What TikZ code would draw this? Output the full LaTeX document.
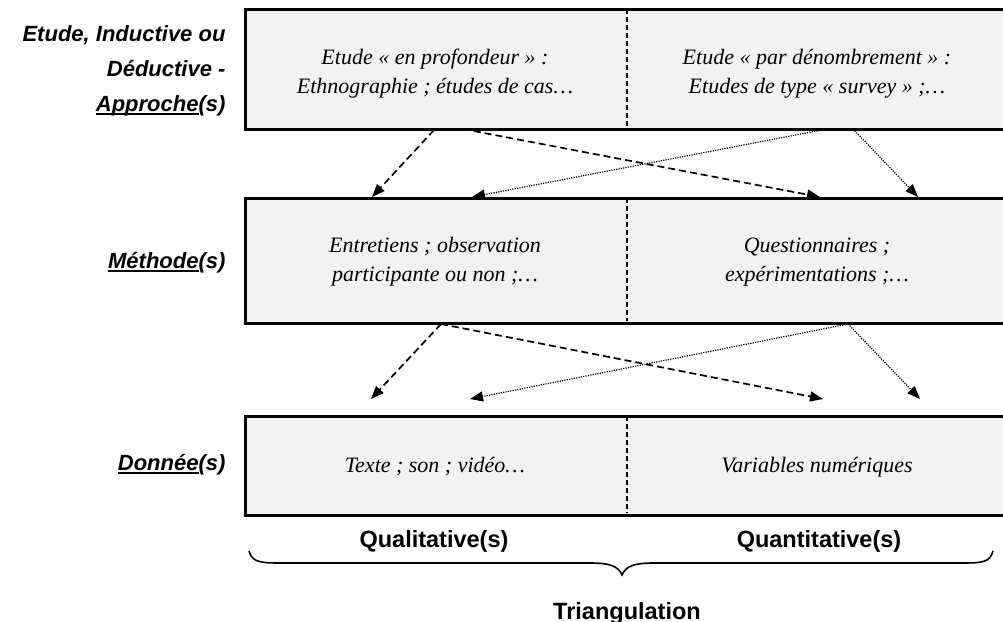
\documentclass[tikz,border=0pt]{standalone}
\usepackage{fontspec}
\setmainfont{Liberation Serif}
\newfontfamily\lsans{Liberation Sans}
\usetikzlibrary{arrows.meta}
\definecolor{boxgray}{HTML}{F2F2F2}
\newcommand\myul[1]{\setbox0\hbox{#1}\rlap{\rule[-3.5pt]{\wd0}{2.2pt}}\box0}
\begin{document}
\begin{tikzpicture}[x=1pt,y=-1pt,
  box/.style={draw=black,line width=2.5pt,fill=boxgray,rectangle,anchor=north west,inner sep=0pt},
  divider/.style={line width=1.5pt,dash pattern=on 5pt off 3pt},
  cell/.style={font=\fontsize{22}{29}\selectfont\itshape,align=center},
  side/.style={font=\lsans\fontsize{22}{35}\selectfont\bfseries\itshape,align=right,anchor=east},
  head/.style={font=\lsans\fontsize{23.5}{27}\selectfont\bfseries},
  qual/.style={-{Triangle[length=13pt,width=10pt]},line width=1.7pt,dash pattern=on 7pt off 4pt},
  quant/.style={-{Triangle[length=13pt,width=10pt]},line width=1.2pt,dash pattern=on 1.2pt off 1.2pt},
]
\useasboundingbox (0,0) rectangle (1003,621);
% boxes
\node[box,minimum width=764pt,minimum height=120pt] (top) at (244,8) {};
\node[box,minimum width=764pt,minimum height=125pt] (mid) at (244,197) {};
\node[box,minimum width=764pt,minimum height=99pt] (bot) at (244,415) {};
\draw[divider] (627,9) -- (627,127);
\draw[divider] (627,198) -- (627,321);
\draw[divider] (627,416) -- (627,513);
% cell texts
\node[cell] (tl) at (435,74) {Etude « en profondeur » :\\Ethnographie ; études de cas…};
\node[cell] (tr) at (817,74) {Etude « par dénombrement » :\\Etudes de type « survey » ;…};
\node[cell] (ml) at (435,262) {Entretiens ; observation\\participante ou non ;…};
\node[cell] (mr) at (817,262) {Questionnaires ;\\expérimentations ;…};
\node[cell] (bl) at (435,467) {Texte ; son ; vidéo…};
\node[cell] (br) at (817,467) {Variables numériques};
% side labels
\node[side] (s1) at (229,71) {Etude,\ Inductive ou\\Déductive -\\\myul{Approche}(s)};
\node[side] (s2) at (229,263) {\myul{Méthode}(s)};
\node[side] (s3) at (229,465) {\myul{Donnée}(s)};
% arrow end points
\coordinate (a1) at (434,130);
\coordinate (a2) at (463,129);
\coordinate (a3) at (827,129);
\coordinate (a4) at (853,129);
\coordinate (b1) at (372,197);
\coordinate (b2) at (820,197);
\coordinate (b3) at (472,197);
\coordinate (b4) at (918,197);
\coordinate (c1) at (441,324);
\coordinate (c2) at (848,324);
\coordinate (d1) at (371,399);
\coordinate (d2) at (823,399);
\coordinate (d3) at (470,399);
\coordinate (d4) at (920,399);
\draw[qual] (a1) -- (b1);
\draw[qual] (a2) -- (b2);
\draw[quant] (a3) -- (b3);
\draw[quant] (a4) -- (b4);
\draw[qual] (c1) -- (d1);
\draw[qual] (c1) -- (d2);
\draw[quant] (c2) -- (d3);
\draw[quant] (c2) -- (d4);
% bottom labels
\node[head] (q1) at (434,541) {Qualitative(s)};
\node[head] (q2) at (819,541) {Quantitative(s)};
\node[head,anchor=base] (tri) at (627,619) {Triangulation};
\draw[line width=1.6pt] (249,551) .. controls (252,562) and (260,563) .. (280,563) -- (590,563) .. controls (610,563) and (618,566) .. (622,575) .. controls (626,566) and (634,563) .. (654,563) -- (963,563) .. controls (983,563) and (990,562) .. (993,551);
\end{tikzpicture}
\end{document}
